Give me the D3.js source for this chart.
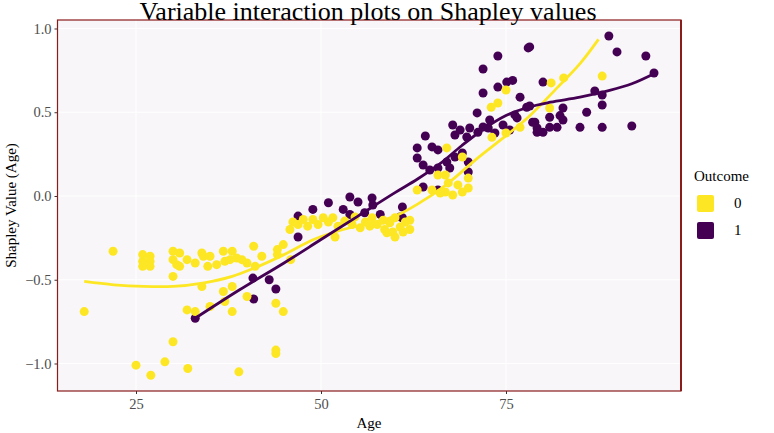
<!DOCTYPE html>
<html><head><meta charset="utf-8">
<script src="https://cdn.jsdelivr.net/npm/d3@7"></script>
<style>body{margin:0;background:#fff}svg{display:block}</style>
</head><body><svg id="c" width="774" height="433"></svg>
<script>
const xTicks = [25, 50, 75];
const yTicks = [-1.0, -0.5, 0.0, 0.5, 1.0];
const groups = ["0", "1"];
const groupColors = ["#FDE725", "#440154"];

// Outcome 0 points: [Age, Shapley]
const age0 = [18.0,21.9,25.9,26.9,25.9,26.9,25.9,26.9,30.0,30.9,30.0,30.5,30.9,31.9,33.0,33.9,34.1,35.0,34.7,35.9,36.8,38.0,37.0,37.7,38.6,39.3,40.0,30.0,33.9,36.8,38.0,31.9,33.0,35.0,37.0,38.0,40.0,30.0,25.0,27.0,28.9,32.0,38.9,43.9,44.9,43.9,43.9,
40.9,42.0,44.1,44.9,44.1,45.9,41.1,45.8,
46.2,46.9,47.6,48.2,48.9,49.6,50.3,51.0,51.6,51.9,52.3,53.2,54.2,54.6,55.3,56.0,56.6,56.9,57.6,58.4,58.6,59.3,59.7,60.0,60.7,61.1,61.4,62.0,62.0,60.0,58.9,
63.0,65.0,66.1,66.8,67.8,69.1,69.9,69.9,68.5,67.2,65.8,66.8,67.0,69.1,75.0,73.0,73.9,75.0,76.9,73.1,81.1,82.8,88.0,80.9];
const val0 = [-0.69,-0.33,-0.35,-0.36,-0.39,-0.39,-0.42,-0.42,-0.33,-0.34,-0.38,-0.41,-0.42,-0.38,-0.40,-0.34,-0.36,-0.36,-0.42,-0.41,-0.33,-0.33,-0.39,-0.38,-0.37,-0.38,-0.40,-0.48,-0.54,-0.57,-0.54,-0.68,-0.69,-0.66,-0.63,-0.69,-0.60,-0.87,-1.01,-1.07,-0.99,-1.03,-1.05,-0.64,-0.69,-0.92,-0.94,
-0.30,-0.36,-0.32,-0.29,-0.35,-0.38,-0.42,-0.20,
-0.155,-0.17,-0.14,-0.18,-0.14,-0.17,-0.13,-0.155,-0.13,-0.245,-0.18,-0.15,-0.17,-0.125,-0.19,-0.155,-0.18,-0.13,-0.17,-0.145,-0.20,-0.16,-0.215,-0.13,-0.185,-0.215,-0.155,-0.20,-0.145,-0.245,-0.22,
0.036,0.036,0.018,0.024,0.006,0.024,0.048,0.107,0.066,0.078,0.125,0.125,0.287,0.233,0.633,0.53,0.555,0.376,0.41,0.35,0.675,0.705,0.716,0.525];

// Outcome 1 points
const age1 = [33.0,40.8,40.9,43.0,43.9,46.9,46.9,48.9,51.0,53.0,53.9,55.0,53.9,56.9,57.0,55.9,58.0,60.7,61.0,61.0,
63.8,65.8,63.0,65.0,65.8,63.0,63.8,64.7,65.8,67.0,67.4,68.1,69.1,69.9,69.9,64.1,67.8,68.1,69.7,71.1,71.9,
78.0,73.9,71.9,71.9,73.9,75.1,75.9,76.9,76.5,77.8,78.6,79.2,
68.8,70.1,71.2,72.6,73.5,74.6,75.5,72.8,76.2,
88.9,90.0,93.9,95.0,80.0,87.0,88.0,88.0,85.9,78.2,82.7,80.9,78.9,79.2,80.0,80.9,81.9,82.7,85.0,88.0,92.0,78.2,82.3];
const val1 = [-0.73,-0.49,-0.615,-0.50,-0.555,-0.12,-0.245,-0.08,-0.04,-0.08,-0.006,-0.036,-0.11,-0.012,-0.054,-0.10,-0.11,-0.125,-0.066,-0.13,
0.054,0.036,0.287,0.293,0.275,0.227,0.185,0.155,0.167,0.203,0.167,0.233,0.257,0.203,0.143,0.358,0.424,0.364,0.352,0.496,0.412,
0.884,0.836,0.758,0.615,0.65,0.68,0.69,0.59,0.466,0.53,0.44,0.38,
0.394,0.406,0.38,0.406,0.376,0.424,0.394,0.454,0.484,
0.955,0.86,0.836,0.734,0.68,0.627,0.603,0.543,0.50,0.89,0.525,0.47,0.44,0.406,0.38,0.41,0.41,0.454,0.41,0.41,0.418,0.537,0.48];

// smoothed (loess) curves
const smoothAge0 = [18,22,26,30,34,38,41,45,49,53,57,60,63,67,71,75,78,82,85,87.5];
const smoothVal0 = [-0.51,-0.53,-0.54,-0.54,-0.52,-0.48,-0.43,-0.35,-0.26,-0.20,-0.16,-0.12,-0.05,0.07,0.22,0.36,0.47,0.65,0.79,0.935];
const smoothAge1 = [33,39,45,50,55,60,63,66,69,72,75,78,81,85,89,92,95];
const smoothVal1 = [-0.73,-0.56,-0.40,-0.26,-0.12,0.02,0.10,0.19,0.30,0.40,0.48,0.53,0.56,0.59,0.63,0.67,0.73];

const svg = d3.select("#c");
const L = 57.5, R = 681, T = 20, B = 391;
const x = d3.scaleLinear().domain([14.39, 98.65]).range([L, R]);
const y = d3.scaleLinear().domain([-1.1642, 1.0507]).range([B, T]);
const serif = "'Liberation Serif', 'DejaVu Serif', serif";

svg.append("rect").attr("x", L).attr("y", T).attr("width", R - L).attr("height", B - T).attr("fill", "#F8F6F8");
const g = svg.append("g");
g.selectAll(".vg").data(xTicks).join("line").attr("x1", d => x(d)).attr("x2", d => x(d)).attr("y1", T).attr("y2", B).attr("stroke", "#fff").attr("stroke-width", 1.1);
g.selectAll(".hg").data(yTicks).join("line").attr("y1", d => y(d)).attr("y2", d => y(d)).attr("x1", L).attr("x2", R).attr("stroke", "#fff").attr("stroke-width", 1.1);

const fmt = d => d3.format(".1f")(d).replace("-", "\u2212");
const xAxis = svg.append("g").attr("transform", `translate(0,${B})`).call(d3.axisBottom(x).tickValues(xTicks).tickSize(3).tickPadding(5).tickFormat(d3.format("d")));
const yAxis = svg.append("g").attr("transform", `translate(${L},0)`).call(d3.axisLeft(y).tickValues(yTicks).tickSize(3).tickPadding(3).tickFormat(fmt));
[xAxis, yAxis].forEach(a => {
  a.select(".domain").remove();
  a.selectAll(".tick line").attr("stroke", "#333").attr("stroke-width", 1);
  a.selectAll(".tick text").attr("fill", "#4d4d4d").style("font-family", serif).style("font-size", "14.5px");
});

const pts0 = age0.map((a, i) => ({a, v: val0[i], g: 0}));
const pts1 = age1.map((a, i) => ({a, v: val1[i], g: 1}));
const pg = svg.append("g");
pg.selectAll(".p1").data(pts1).join("circle").attr("cx", d => x(d.a)).attr("cy", d => y(d.v)).attr("r", 4.5).attr("fill", groupColors[1]);
pg.selectAll(".p0").data(pts0).join("circle").attr("cx", d => x(d.a)).attr("cy", d => y(d.v)).attr("r", 4.5).attr("fill", groupColors[0]);

const line = d3.line().x(d => x(d[0])).y(d => y(d[1])).curve(d3.curveCatmullRom.alpha(0.5));
svg.append("path").attr("d", line(smoothAge0.map((a, i) => [a, smoothVal0[i]]))).attr("fill", "none").attr("stroke", groupColors[0]).attr("stroke-width", 2.8);
svg.append("path").attr("d", line(smoothAge1.map((a, i) => [a, smoothVal1[i]]))).attr("fill", "none").attr("stroke", groupColors[1]).attr("stroke-width", 2.8);

svg.append("rect").attr("x", L).attr("y", T).attr("width", R - L).attr("height", B - T).attr("fill", "none").attr("stroke", "#8B1C1C").attr("stroke-width", 1.2);
svg.append("line").attr("x1", R).attr("x2", R).attr("y1", T).attr("y2", B).attr("stroke", "#8B1C1C").attr("stroke-width", 2);

svg.append("text").attr("x", 368).attr("y", 20).attr("text-anchor", "middle").style("font-family", serif).style("font-size", "26px").attr("fill", "#000").text("Variable interaction plots on Shapley values");
svg.append("text").attr("x", 369).attr("y", 428).attr("text-anchor", "middle").style("font-family", serif).style("font-size", "15px").attr("fill", "#000").text("Age");
svg.append("text").attr("transform", `translate(16,${(T + B) / 2}) rotate(-90)`).attr("text-anchor", "middle").style("font-family", serif).style("font-size", "15px").attr("fill", "#000").text("Shapley Value (Age)");

const leg = svg.append("g").attr("transform", "translate(694,0)");
leg.append("text").attr("x", 0).attr("y", 181).style("font-family", serif).style("font-size", "15px").attr("fill", "#000").text("Outcome");
groups.forEach((k, i) => {
  const yy = 195 + i * 27;
  leg.append("rect").attr("x", 3).attr("y", yy).attr("width", 17).attr("height", 17).attr("rx", 2).attr("fill", groupColors[i]);
  leg.append("text").attr("x", 40).attr("y", yy + 13).style("font-family", serif).style("font-size", "15px").attr("fill", "#000").text(k);
});
</script></body></html>
